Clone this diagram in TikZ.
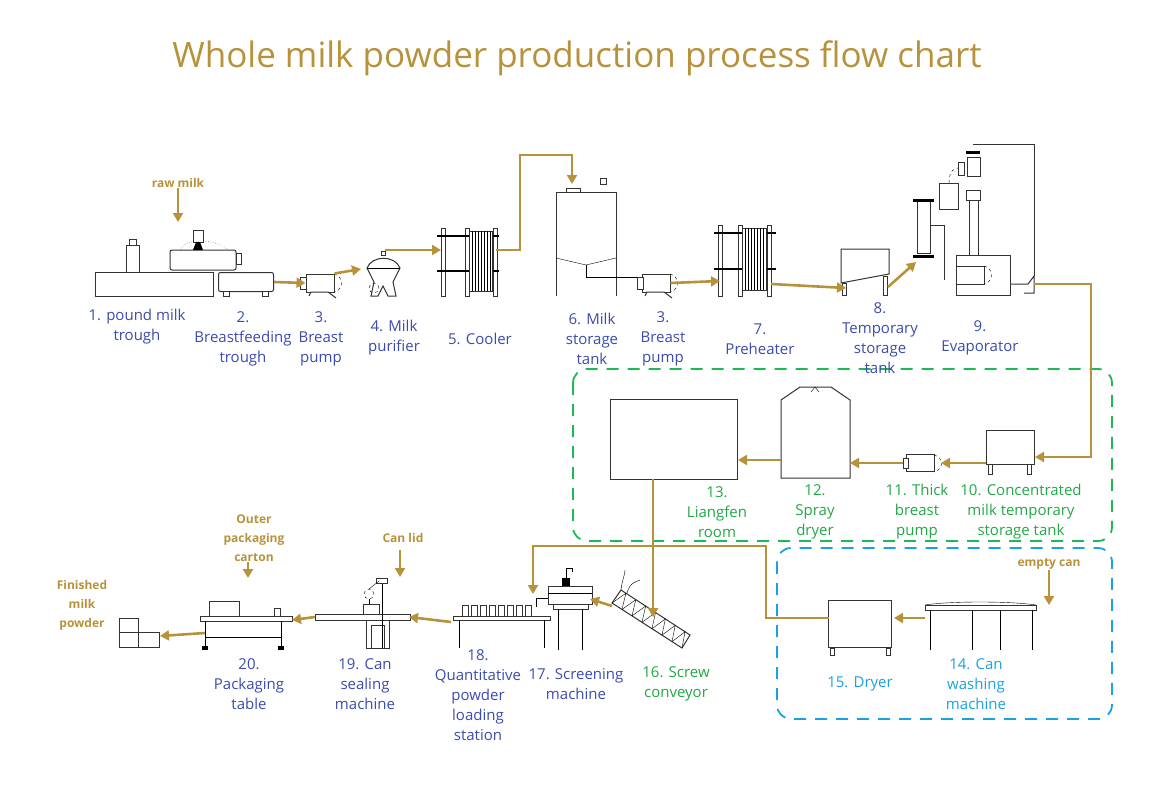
\documentclass[tikz,border=0pt]{standalone}
\usepackage{fontspec}
\setmainfont{Open Sans}
\usetikzlibrary{arrows.meta,calc}
\definecolor{gold}{HTML}{B8923A}
\definecolor{lblue}{HTML}{3B4BAE}
\definecolor{lgreen}{HTML}{22A846}
\definecolor{dgreen}{HTML}{1DB954}
\definecolor{dblue}{HTML}{1BA1E2}
\begin{document}
\begin{tikzpicture}[x=1pt,y=-1pt,
  pipe/.style={gold,line width=2.6pt},
  flow/.style={pipe,-{Triangle[length=9pt,width=10pt]}},
  eq/.style={draw=black!80,line width=1pt,fill=white},
  lbl/.style={lblue,font=\fontsize{15}{20}\selectfont,align=center,inner sep=0},
  glbl/.style={lbl,lgreen},
  note/.style={gold,font=\bfseries\fontsize{12}{19}\selectfont,align=center,inner sep=0},
  grp/.style={dash pattern=on 12pt off 9pt,line width=1.8pt,rounded corners=14pt}]
\useasboundingbox (0,0) rectangle (1154,789);
\node[gold,font=\fontsize{35}{40}\selectfont] (title) at (577,58) {Whole milk powder production process flow chart};
% group boxes
\draw[grp,dgreen] (573,369) rectangle (1112,541);
\draw[grp,dblue] (777,548) rectangle (1112,719);
% ---------- equipment row 1
\node[eq,minimum width=118pt,minimum height=24pt,inner sep=0] (e1) at (154,284) {};
\draw[eq] (126,272) rectangle (139,245); \draw[eq] (129,245) rectangle (136,239);
\draw[eq,rounded corners=2pt] (170,250) rectangle (236,270);
\draw[eq] (236,253) rectangle (241,264);
\draw[eq] (193,242) rectangle (203,230); \fill (193,250)--(196,242)--(200,242)--(203,250)--cycle;
\draw[dotted] (180,250) .. controls (185,238) and (215,238) .. (228,250);
\node[eq,minimum width=55pt,minimum height=19pt,inner sep=0,rounded corners=2pt] (e2) at (246,282) {};
\draw[eq] (223,291) rectangle (229,296); \draw[eq] (262,291) rectangle (268,296);
% 3 pump
\node[eq,minimum width=28pt,minimum height=18pt,inner sep=0] (e3) at (320,283) {};
\draw[eq] (300,277) rectangle (306,289);
\draw[dashed] (334,274) .. controls (344,276) and (344,290) .. (334,292);
\draw[eq] (309,296)--(311,292)--(328,292)--(336,298);
% 4 purifier
\draw[eq] (367,268) .. controls (372,255) and (395,255) .. (400,268) -- (393,282) -- (396,296) -- (388,296) -- (383,286) -- (378,296) -- (371,296) -- (374,282) -- cycle;
\draw (367,268)--(400,268);
\draw[eq] (381,255) rectangle (385,251);
\draw[dashed] (374,288) circle (5pt);
\coordinate (e4top) at (385,250);
\coordinate (e4in) at (361,269);
% 5 cooler
\foreach \x in {441,465,493} \draw[eq] (\x,228) rectangle (\x+4,296);
\draw[line width=2pt] (437,236)--(499,236); \draw[line width=2pt] (437,271)--(499,271);
\draw[eq] (469,231) rectangle (492,291);
\foreach \x in {472,475,...,490} \draw (\x,231)--(\x,291);
\coordinate (e5in) at (441,250); \coordinate (e5out) at (496,250);
% 6 tank
\draw[eq] (556,296)--(556,192)--(616,192)--(616,296);
\draw (556,258)--(586,265)--(616,258);
\draw (586,265)--(586,277)--(640,277);
\draw[eq] (566,188) rectangle (580,192); \draw[eq] (600,184) rectangle (606,178);
\coordinate (e6top) at (572,184);
% 3 pump (second)
\node[eq,minimum width=28pt,minimum height=18pt,inner sep=0] (e3b) at (656,283) {};
\draw[eq] (637,277) rectangle (643,289);
\draw[dashed] (670,274) .. controls (680,276) and (680,290) .. (670,292);
\draw[eq] (645,296)--(647,292)--(664,292)--(672,298);
% 7 preheater
\foreach \x in {718,738,767} \draw[eq] (\x,225) rectangle (\x+4,296);
\draw[line width=2pt] (714,233)--(776,233); \draw[line width=2pt] (714,269)--(776,269);
\draw[eq] (742,228) rectangle (766,290);
\foreach \x in {745,748,...,764} \draw (\x,228)--(\x,290);
\coordinate (e7in) at (720,281); \coordinate (e7out) at (771,284);
% 8 temp tank
\draw[eq] (841,283)--(841,249)--(889,249)--(889,274)--cycle;
\draw[eq] (842,283) rectangle (846,295); \draw[eq] (883,276) rectangle (887,295);
\coordinate (e8in) at (846,288); \coordinate (e8out) at (888,287);
% 9 evaporator
\draw[eq,fill=none] (973,145)--(1034,145)--(1034,276);
\draw[eq] (917,201) rectangle (930,253);
\draw[line width=3pt] (913,200)--(934,200); \draw[line width=3pt] (913,256)--(934,256);
\draw[eq] (939,183) rectangle (958,209);
\draw[eq] (969,190) rectangle (978,268);
\draw[eq] (966,190) rectangle (980,200);
\draw[eq] (967,158) rectangle (980,176);
\draw[eq] (958,163) rectangle (964,175);
\draw[line width=3pt] (966,153)--(980,153);
\draw[dashed] (949,183) .. controls (949,170) and (955,168) .. (958,168);
\draw[eq] (956,255) rectangle (1010,295);
\draw[eq,fill=none] (930,225)--(944,225)--(944,280);
\node[eq,minimum width=28pt,minimum height=18pt,inner sep=0] (e9p) at (970,275) {};
\draw[dashed] (984,266) .. controls (994,268) and (994,282) .. (984,284);
\draw[eq] (1010,284)--(1028,284)--(1034,276)--(1034,293)--(1024,293);
\coordinate (e9in) at (916,262); \coordinate (e9out) at (1034,284);
% ---------- group 2
\node[eq,minimum width=48pt,minimum height=34pt,inner sep=0] (e10) at (1010,447) {};
\draw[eq] (988,464) rectangle (992,474); \draw[eq] (1027,464) rectangle (1031,474);
\coordinate (e10in) at (1035,457); \coordinate (e10out) at (986,463);
\node[eq,minimum width=28pt,minimum height=17pt,inner sep=0] (e11) at (920,463) {};
\draw[dashed] (934,455) .. controls (944,457) and (944,470) .. (934,472);
\draw[eq] (903,458) rectangle (908,468);
\coordinate (e11in) at (941,463); \coordinate (e11out) at (903,463);
\draw[eq] (781,478)--(781,400)--(800,387)--(831,387)--(850,400)--(850,478)--cycle;
\draw (811,392)--(815,387)--(819,392);
\coordinate (e12in) at (850,463); \coordinate (e12out) at (781,460);
\node[eq,minimum width=127pt,minimum height=80pt,inner sep=0] (e13) at (674,439) {};
\coordinate (e13out) at (653,479);
% ---------- blue group
\draw[eq] (925,605) rectangle (1036,610);
\draw (925,605) .. controls (950,601) and (1010,601) .. (1036,605);
\foreach \x in {930,972,1000,1032} \draw[line width=1pt] (\x,610)--(\x,650);
\coordinate (e14in) at (1049,605); \coordinate (e14out) at (925,618);
\node[eq,minimum width=63pt,minimum height=47pt,inner sep=0] (e15) at (860,624) {};
\draw[eq] (830,648) rectangle (834,655); \draw[eq] (886,648) rectangle (890,655);
\coordinate (e15in) at (894,618); \coordinate (e15out) at (829,618);
% ---------- bottom row
\draw[eq] (612,603)--(621,590)--(690,635)--(682,648)--cycle;
\foreach \i in {0,1,...,6} {\draw ($(612,603)!\i/7!(682,648)$)--($(621,590)!\i/7+1/14!(690,635)$)--($(612,603)!\i/7+1/7!(682,648)$);}
\draw (621,590) .. controls (622,580) and (625,575) .. (625,570);
\draw (627,593) .. controls (630,582) and (636,582) .. (640,580);
\coordinate (e16in) at (653,617); \coordinate (e16out) at (612,606);
% 17 screening
\draw[eq] (548,586) rectangle (592,604);
\draw (548,593)--(592,593);
\draw[eq] (553,604) rectangle (588,609);
\draw (558,609)--(558,650); \draw (582,609)--(582,650);
\fill (562,578) rectangle (570,586);
\draw (566,578)--(566,568)--(572,568)--(572,572);
\draw (548,598)--(536,598)--(536,607);
\coordinate (e17in) at (590,599); \coordinate (e17top) at (533,594);
% 18 table
\draw[eq] (453,616) rectangle (550,620);
\draw[line width=1pt] (459,620)--(459,648); \draw[line width=1pt] (544,620)--(544,648);
\foreach \x in {462,471,...,530} \draw[eq] (\x,605) rectangle (\x+6,616);
\coordinate (e18out) at (451,622);
% 19 sealing machine
\draw[eq] (315,614) rectangle (410,620);
\draw[eq] (366,620) rectangle (389,648);
\draw[eq] (371,625) rectangle (384,648);
\draw[line width=1pt] (382,578)--(382,648);
\draw[eq] (376,578) rectangle (387,583);
\draw[dashed] (369,594) circle (5pt);
\draw (369,599)--(369,604); \draw (369,589)--(379,581);
\draw[eq] (363,604) rectangle (379,614);
\coordinate (e19in) at (409,617); \coordinate (e19out) at (315,617);
% 20 packaging table
\draw[eq] (200,616) rectangle (292,621);
\draw[eq] (209,601) rectangle (239,616); \draw[eq] (274,608) rectangle (280,616);
\draw[line width=1pt] (205,621)--(205,648); \draw[line width=1pt] (281,621)--(281,648);
\draw (205,637)--(281,637);
\fill (202,646) rectangle (208,650); \fill (278,646) rectangle (284,650);
\coordinate (e20in) at (292,620); \coordinate (e20out) at (205,633);
\draw[eq] (119,618) rectangle (138,632); \draw[eq] (119,632) rectangle (138,647); \draw[eq] (138,632) rectangle (159,647);
\coordinate (fin) at (160,636);
% ---------- notes
\node[note] (raw) at (178,183) {raw milk};
\coordinate (rawend) at (178,222);
\node[note] (empty) at (1049,564) {empty can};
\node[note] (lid) at (403,538) {Can lid};
\coordinate (lidstart) at (400,550); \coordinate (lidend) at (400,577);
\node[note] (carton) at (254,538) {Outer\\packaging\\carton};
\coordinate (cs) at (248,562); \coordinate (cartonend) at (248,578);
\node[note] (finished) at (82,605) {Finished\\milk\\powder};
% ---------- flows
\draw[flow] (raw.south) -- (rawend);
\draw[flow] (e2.east) -- (e3.west);
\draw[flow] (e3.north east) -- (e4in);
\draw[flow] (e4top) -- (e5in);
\draw[flow] (e5out) -| (520,155) -| (e6top);
\draw[flow] (e3b.east) -- (e7in);
\draw[flow] (e7out) -- (e8in);
\draw[flow] (e8out) -- (e9in);
\draw[flow] (e9out) -| (1091,457) -- (e10in);
\draw[flow] (e10out) -- (e11in);
\draw[flow] (e11out) -- (e12in);
\draw[flow] (e12out) -- (e13.east |- e12out);
\draw[flow] (e13out) -- (e16in);
\draw[flow] (empty.south) -- (e14in);
\draw[flow] (e14out) -- (e15in);
\draw[flow] (e15out) -- (766,618) |- (533,546) -- (e17top);
\draw[flow] (e16out) -- (e17in);
\draw[flow] (e18out) -- (e19in);
\draw[flow] (e19out) -- (e20in);
\draw[flow] (lidstart) -- (lidend);
\draw[flow] (cs) -- (cartonend);
\draw[flow] (e20out) -- (fin);
% ---------- labels
\node[lbl] (l1) at (137,327) {1. pound milk\\trough};
\node[lbl] (l2) at (243,339) {2.\\Breastfeeding\\trough};
\node[lbl] (l3) at (321,339) {3.\\Breast\\pump};
\node[lbl] (l4) at (394,338) {4. Milk\\purifier};
\node[lbl] (l5) at (480,339) {5. Cooler};
\node[lbl] (l6) at (592,339) {6. Milk\\storage\\tank};
\node[lbl] (l3b) at (663,339) {3.\\Breast\\pump};
\node[lbl] (l7) at (760,339) {7.\\Preheater};
\node[lbl] (l8) at (880,338) {8.\\Temporary\\storage\\tank};
\node[lbl] (l9) at (980,338) {9.\\Evaporator};
\node[glbl] (l10) at (1021,512) {10. Concentrated\\milk temporary\\storage tank};
\node[glbl] (l11) at (917,512) {11. Thick\\breast\\pump};
\node[glbl] (l12) at (815,512) {12.\\Spray\\dryer};
\node[glbl] (l13) at (717,512) {13.\\Liangfen\\room};
\node[lbl,dblue] (l14) at (976,684) {14. Can\\washing\\machine};
\node[lbl,dblue] (l15) at (860,684) {15. Dryer};
\node[glbl] (l16) at (676,684) {16. Screw\\conveyor};
\node[lbl] (l17) at (576,684) {17. Screening\\machine};
\node[lbl] (l18) at (478,695) {18.\\Quantitative\\powder\\loading\\station};
\node[lbl] (l19) at (365,684) {19. Can\\sealing\\machine};
\node[lbl] (l20) at (249,684) {20.\\Packaging\\table};
\end{tikzpicture}
\end{document}
